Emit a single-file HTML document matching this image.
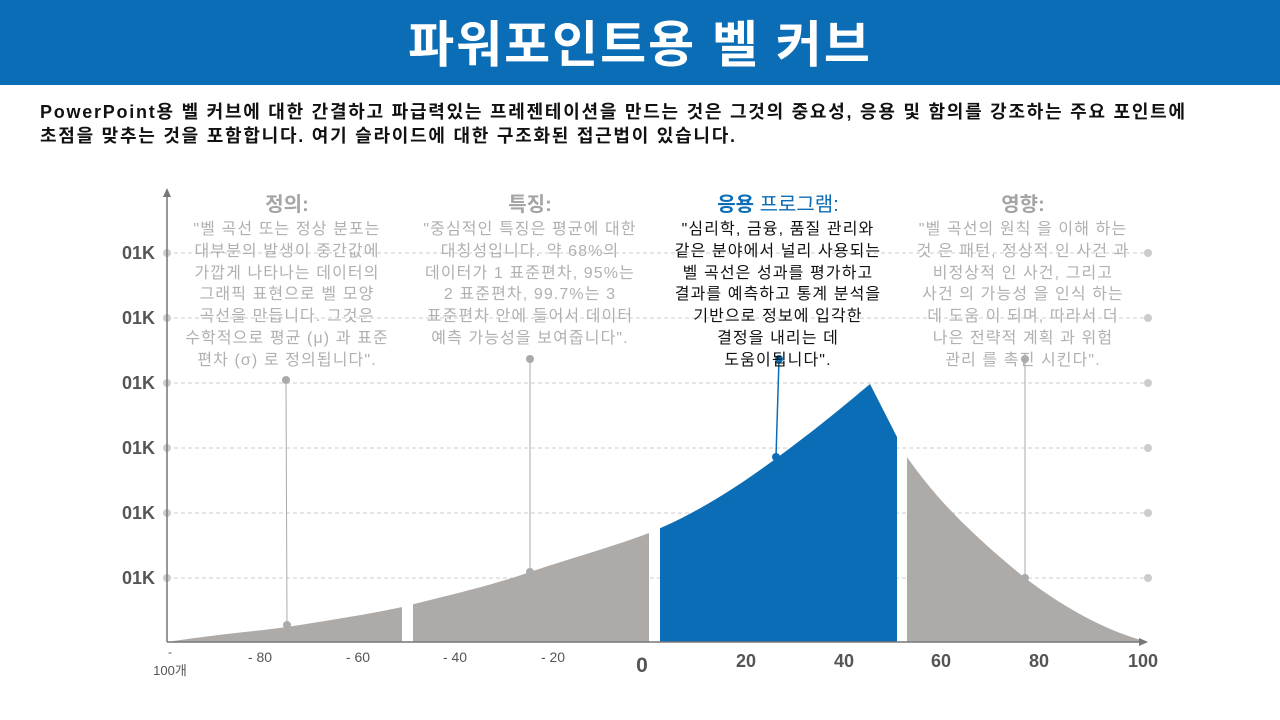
<!DOCTYPE html>
<html><head><meta charset="utf-8"><style>
body{margin:0;width:1280px;height:720px;overflow:hidden;background:#fff;font-family:"Liberation Sans","Noto Sans CJK KR",sans-serif;position:relative}
.hdr{position:absolute;left:0;top:0;width:1280px;height:85px;background:#0b6db5;color:#fff;font-weight:bold;font-size:50px;letter-spacing:2px;text-align:center;line-height:90px}
.sub{position:absolute;left:40px;top:100px;width:1230px;font-weight:bold;font-size:18px;letter-spacing:1.75px;line-height:24px;color:#111;white-space:nowrap}
.col{position:absolute;width:260px;text-align:center;font-size:16px;letter-spacing:1.1px;line-height:21.8px;color:#b0b0b0;white-space:nowrap}
.col h3{margin:0 0 1px;font-size:20px;line-height:26px;color:#a5a5a5;letter-spacing:0}
</style></head><body>
<div class="hdr">파워포인트용 벨 커브</div>
<div class="sub">PowerPoint용 벨 커브에 대한 간결하고 파급력있는 프레젠테이션을 만드는 것은 그것의 중요성, 응용 및 함의를 강조하는 주요 포인트에<br>초점을 맞추는 것을 포함합니다. 여기 슬라이드에 대한 구조화된 접근법이 있습니다.</div>
<svg width="1280" height="720" style="position:absolute;left:0;top:0">
<defs><clipPath id="c"><rect x="167" y="300" width="235" height="400"/><rect x="413" y="300" width="236" height="400"/><rect x="907" y="300" width="260" height="400"/></clipPath>
<clipPath id="b"><rect x="660" y="300" width="237" height="400"/></clipPath></defs>
<g stroke="#ccc" stroke-dasharray="4,3" stroke-width="1">
<line x1="167" y1="253" x2="1148" y2="253"/><line x1="167" y1="318" x2="1148" y2="318"/><line x1="167" y1="383" x2="1148" y2="383"/><line x1="167" y1="448" x2="1148" y2="448"/><line x1="167" y1="513" x2="1148" y2="513"/><line x1="167" y1="578" x2="1148" y2="578"/></g>
<g fill="#ccc"><circle cx="167" cy="253" r="4"/><circle cx="167" cy="318" r="4"/><circle cx="167" cy="383" r="4"/><circle cx="167" cy="448" r="4"/><circle cx="167" cy="513" r="4"/><circle cx="167" cy="578" r="4"/>
<circle cx="1148" cy="253" r="4"/><circle cx="1148" cy="318" r="4"/><circle cx="1148" cy="383" r="4"/><circle cx="1148" cy="448" r="4"/><circle cx="1148" cy="513" r="4"/><circle cx="1148" cy="578" r="4"/></g>
<path d="M167,642 C220,634 250,632 287,627 C330,620 370,614 402,607 C450,595 490,586 530,572 C575,557 615,546 649,533 C700,512 740,485 778,457 C815,430 845,405 870,384 L897,437 L907,457 C930,490 960,525 1025,578 C1070,612 1110,632 1148,642 Z" fill="#aeaaa8" clip-path="url(#c)"/>
<path d="M167,642 C220,634 250,632 287,627 C330,620 370,614 402,607 C450,595 490,586 530,572 C575,557 615,546 649,533 C700,512 740,485 778,457 C815,430 845,405 870,384 L897,437 L897,642 Z" fill="#0b6db5" clip-path="url(#b)"/>
<line x1="167" y1="642" x2="1144" y2="642" stroke="#777" stroke-width="1.5"/><path d="M1148,642 l-9,-4 v8z" fill="#777"/>
<line x1="167" y1="642" x2="167" y2="194" stroke="#777" stroke-width="1.5"/><path d="M167,188 l-4,9 h8z" fill="#777"/>
<g stroke="#aaa" stroke-width="1"><line x1="286" y1="380" x2="287" y2="625"/><line x1="530" y1="359" x2="530" y2="572"/><line x1="1025" y1="359" x2="1025" y2="578"/></g>
<line x1="779" y1="359" x2="776" y2="457" stroke="#0b6db5" stroke-width="1.5"/>
<g fill="#aaa"><circle cx="286" cy="380" r="4"/><circle cx="287" cy="625" r="4"/><circle cx="530" cy="359" r="4"/><circle cx="530" cy="572" r="4"/><circle cx="1025" cy="359" r="4"/><circle cx="1025" cy="578" r="4"/></g>
<g fill="#0b6db5"><circle cx="779" cy="359" r="4"/><circle cx="776" cy="457" r="4"/></g>
<g font-size="18" font-weight="bold" fill="#555" text-anchor="end" font-family="Liberation Sans,sans-serif">
<text x="155" y="259">01K</text><text x="155" y="324">01K</text><text x="155" y="389">01K</text><text x="155" y="454">01K</text><text x="155" y="519">01K</text><text x="155" y="584">01K</text></g>
<g fill="#555" font-family="Liberation Sans,'Noto Sans CJK KR',sans-serif" text-anchor="middle">
<text x="170" y="656" font-size="12">-</text><text x="170" y="675" font-size="13">100개</text>
<g font-size="14"><text x="260" y="662">- 80</text><text x="358" y="662">- 60</text><text x="455" y="662">- 40</text><text x="553" y="662">- 20</text></g>
<text x="642" y="672" font-size="21" font-weight="bold">0</text>
<g font-size="18" font-weight="bold"><text x="746" y="667">20</text><text x="844" y="667">40</text><text x="941" y="667">60</text><text x="1039" y="667">80</text><text x="1143" y="667">100</text></g></g>
</svg>
<div class="col" style="left:157px;top:192px"><h3>정의:</h3>"벨 곡선 또는 정상 분포는<br>대부분의 발생이 중간값에<br>가깝게 나타나는 데이터의<br>그래픽 표현으로 벨 모양<br>곡선을 만듭니다. 그것은<br>수학적으로 평균 (μ) 과 표준<br>편차 (σ) 로 정의됩니다".</div>
<div class="col" style="left:400px;top:192px"><h3>특징:</h3>"중심적인 특징은 평균에 대한<br>대칭성입니다. 약 68%의<br>데이터가 1 표준편차, 95%는<br>2 표준편차, 99.7%는 3<br>표준편차 안에 들어서 데이터<br>예측 가능성을 보여줍니다".</div>
<div class="col" style="left:648px;top:192px;color:#111"><h3 style="color:#0b6db5">응용 <span style="font-weight:normal">프로그램:</span></h3>"심리학, 금융, 품질 관리와<br>같은 분야에서 널리 사용되는<br>벨 곡선은 성과를 평가하고<br>결과를 예측하고 통계 분석을<br>기반으로 정보에 입각한<br>결정을 내리는 데<br>도움이됩니다".</div>
<div class="col" style="left:893px;top:192px"><h3>영향:</h3>"벨 곡선의 원칙 을 이해 하는<br>것 은 패턴, 정상적 인 사건 과<br>비정상적 인 사건, 그리고<br>사건 의 가능성 을 인식 하는<br>데 도움 이 되며, 따라서 더<br>나은 전략적 계획 과 위험<br>관리 를 촉진 시킨다".</div>
</body></html>
